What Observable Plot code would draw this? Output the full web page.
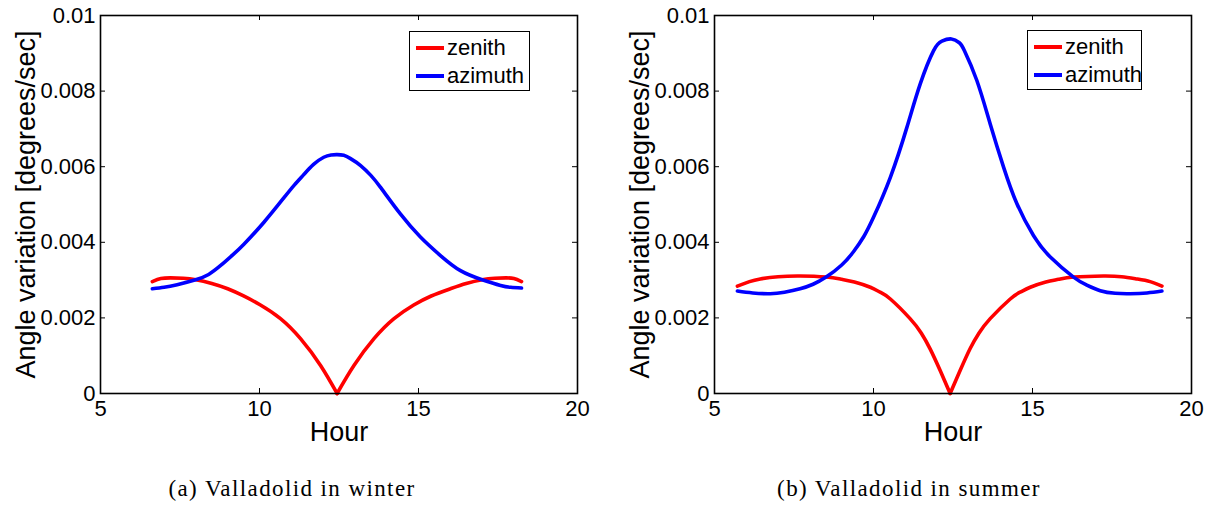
<!DOCTYPE html>
<html>
<head>
<meta charset="utf-8">
<script src="https://cdn.jsdelivr.net/npm/d3@7"></script>
<script src="https://cdn.jsdelivr.net/npm/@observablehq/plot@0.6"></script>
<style>
  html, body { margin: 0; padding: 0; background: white; }
  #wrap { display: flex; width: 1212px; height: 507px; }
  .panel { position: relative; width: 606px; }
  .panel svg { display: block; }
  .legend { position: absolute; background: white; border: 1px solid black; box-sizing: border-box;
            font-family: "Liberation Sans", Arial, sans-serif; font-size: 22px; color: black; }
  .legend .row { position: absolute; left: 0; display: flex; align-items: center; height: 28px; }
  .legend .sw { display: inline-block; width: 28px; height: 4px; margin-left: 6px; margin-right: 3px; }
  .caption { font-family: "Liberation Serif", "Times New Roman", serif; font-size: 23px; letter-spacing: 1.4px;
             line-height: 28px; margin-top: 20px; text-align: center; color: black; }
</style>
</head>
<body>
<div id="wrap"></div>
<script>
// ---- data ----
const xTicks = [5, 10, 15, 20];
const yTicks = [0, 0.002, 0.004, 0.006, 0.008, 0.01];
const seriesNames = ["zenith", "azimuth"];
const seriesColors = ["#ff0000", "#0000ff"];
const captions = ["(a)  Valladolid in winter", "(b)  Valladolid in summer"];

// Winter
const winterZenithHour  = [6.63, 6.9, 7.2, 7.6, 8.0, 8.5, 9.0, 9.5, 10.03, 10.66, 11.29, 11.92, 12.44, 12.97, 13.6, 14.23, 14.85, 15.4, 16.0, 16.5, 17.0, 17.4, 17.75, 18.0, 18.24];
const winterZenithValue = [0.00296, 0.00304, 0.00306, 0.00305, 0.00301, 0.00291, 0.00277, 0.00258, 0.00234, 0.00198, 0.00145, 0.00074, 0, 0.00074, 0.00145, 0.00198, 0.00234, 0.00258, 0.00277, 0.00291, 0.00301, 0.00305, 0.00306, 0.00304, 0.00296];
const winterAzimuthHour  = [6.63, 7.0, 7.41, 7.99, 8.4, 8.77, 9.15, 9.51, 10.14, 10.77, 11.1, 11.39, 11.7, 12.02, 12.25, 12.44, 12.65, 12.85, 13.18, 13.5, 13.8, 14.43, 15.06, 15.69, 16.32, 17.0, 17.58, 17.9, 18.24];
const winterAzimuthValue = [0.00277, 0.00281, 0.00288, 0.00301, 0.00315, 0.00338, 0.00366, 0.00395, 0.00453, 0.00518, 0.00552, 0.00579, 0.00606, 0.00625, 0.00631, 0.00632, 0.00630, 0.00622, 0.00603, 0.00577, 0.00546, 0.00475, 0.00414, 0.00365, 0.00325, 0.00301, 0.00286, 0.00281, 0.00279];
const winterCusp = 12.44;

// Summer
const summerZenithHour  = [5.72, 6.1, 6.44, 7.0, 7.69, 8.51, 9.0, 9.4, 9.9, 10.21, 10.53, 11.15, 11.5, 11.78, 12.1, 12.41, 12.72, 13.04, 13.32, 13.67, 14.3, 14.61, 14.93, 15.42, 15.82, 16.29, 17.23, 17.8, 18.28, 18.7, 19.07];
const summerZenithValue = [0.00284, 0.00296, 0.00303, 0.00309, 0.00311, 0.00308, 0.00302, 0.00295, 0.00281, 0.00268, 0.0025, 0.00198, 0.0016, 0.00118, 0.0006, 0, 0.0006, 0.00119, 0.0016, 0.00198, 0.0025, 0.00268, 0.00281, 0.00295, 0.00302, 0.00308, 0.00311, 0.00309, 0.00303, 0.00296, 0.00284];
const summerAzimuthHour  = [5.72, 6.2, 6.75, 7.2, 7.69, 8.1, 8.51, 9.0, 9.37, 9.7, 10.0, 10.53, 11.05, 11.47, 11.89, 12.15, 12.45, 12.7, 12.86, 13.25, 13.67, 14.09, 14.51, 15.03, 15.56, 16.29, 16.7, 17.13, 17.6, 18.07, 18.6, 19.07];
const summerAzimuthValue = [0.00271, 0.00266, 0.00264, 0.00268, 0.00277, 0.00289, 0.00308, 0.00340, 0.00375, 0.00416, 0.00466, 0.00572, 0.00704, 0.00819, 0.00907, 0.00932, 0.00938, 0.00928, 0.00907, 0.00828, 0.00713, 0.00599, 0.00502, 0.00418, 0.00361, 0.00308, 0.00287, 0.00272, 0.00265, 0.00264, 0.00266, 0.00271];
const summerCusp = 12.41;

// ---- build tables ----
const toRows = (hours, values) => hours.map((h, i) => ({hour: h, value: values[i]}));

const panels = [
  {zenith: toRows(winterZenithHour, winterZenithValue), azimuth: toRows(winterAzimuthHour, winterAzimuthValue),
   cusp: winterCusp, marginLeft: 100, marginRight: 29, legendLeft: 409, legendTop: 31, legendWidth: 121, caption: captions[0], capShift: 22},
  {zenith: toRows(summerZenithHour, summerZenithValue), azimuth: toRows(summerAzimuthHour, summerAzimuthValue),
   cusp: summerCusp, marginLeft: 108, marginRight: 21, legendLeft: 421, legendTop: 30, legendWidth: 115, caption: captions[1], capShift: 0}
];

const W = 606, H = 455, MT = 15, MB = 62;
const innerH = H - MT - MB;
const wrap = document.getElementById("wrap");

for (const p of panels) {
  const innerW = W - p.marginLeft - p.marginRight;
  const am = p.zenith.filter(d => d.hour <= p.cusp);
  const pm = p.zenith.filter(d => d.hour >= p.cusp);
  const chart = Plot.plot({
    width: W, height: H,
    marginLeft: p.marginLeft, marginRight: p.marginRight, marginTop: MT, marginBottom: MB,
    style: {fontFamily: "'Liberation Sans', Arial, sans-serif", fontSize: "22px", background: "white", color: "black", overflow: "visible"},
    x: {domain: [5, 20]},
    y: {domain: [0, 0.01]},
    marks: [
      // inward ticks on all four sides
      Plot.tickX(xTicks, {x: d => d, insetTop: innerH - 5, stroke: "black", strokeWidth: 1}),
      Plot.tickX(xTicks, {x: d => d, insetBottom: innerH - 5, stroke: "black", strokeWidth: 1}),
      Plot.tickY(yTicks, {y: d => d, insetRight: innerW - 5, stroke: "black", strokeWidth: 1}),
      Plot.tickY(yTicks, {y: d => d, insetLeft: innerW - 5, stroke: "black", strokeWidth: 1}),
      Plot.line(am, {x: "hour", y: "value", stroke: seriesColors[0], strokeWidth: 3.6, curve: "natural"}),
      Plot.line(pm, {x: "hour", y: "value", stroke: seriesColors[0], strokeWidth: 3.6, curve: "natural"}),
      Plot.line(p.azimuth, {x: "hour", y: "value", stroke: seriesColors[1], strokeWidth: 3.6, curve: "natural"}),
      Plot.frame({stroke: "black", strokeWidth: 1.6}),
      Plot.axisX(xTicks, {tickSize: 0, tickPadding: 7, fontSize: 22, label: null, fill: "black"}),
      Plot.axisY(yTicks, {tickSize: 0, tickPadding: 5, fontSize: 22, label: null, fill: "black", tickFormat: d => String(d)}),
      Plot.text(["Hour"], {frameAnchor: "bottom", dy: 39, lineAnchor: "middle", textAnchor: "middle", fontSize: 27, fill: "black"}),
      Plot.text(["Angle variation [degrees/sec]"], {frameAnchor: "left", dx: -74, rotate: -90, textAnchor: "middle", lineAnchor: "middle", fontSize: 27, fill: "black"})
    ]
  });

  const div = document.createElement("div");
  div.className = "panel";
  div.appendChild(chart);

  // legend
  const leg = document.createElement("div");
  leg.className = "legend";
  leg.style.left = p.legendLeft + "px";
  leg.style.top = p.legendTop + "px";
  leg.style.width = p.legendWidth + "px";
  leg.style.height = "60px";
  seriesNames.forEach((name, i) => {
    const row = document.createElement("div");
    row.className = "row";
    row.style.top = (2 + i * 28) + "px";
    const sw = document.createElement("span");
    sw.className = "sw";
    sw.style.background = seriesColors[i];
    const tx = document.createElement("span");
    tx.textContent = name;
    row.appendChild(sw);
    row.appendChild(tx);
    leg.appendChild(row);
  });
  div.appendChild(leg);

  const cap = document.createElement("div");
  cap.className = "caption";
  cap.style.paddingRight = p.capShift + "px";
  cap.textContent = p.caption;
  div.appendChild(cap);

  wrap.appendChild(div);
}
</script>
</body>
</html>
